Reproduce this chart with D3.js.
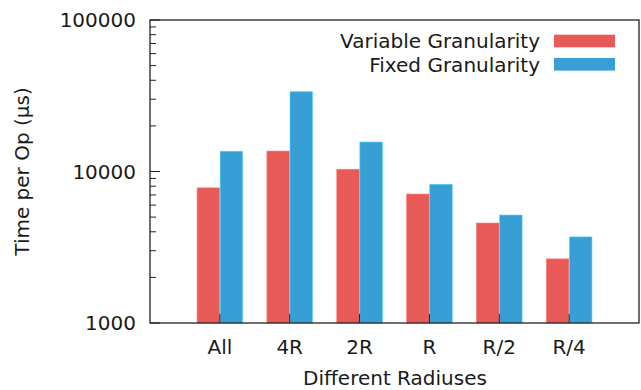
<!DOCTYPE html>
<html>
<head>
<meta charset="utf-8">
<script src="https://cdn.jsdelivr.net/npm/d3@7"></script>
<style>
  html, body { margin: 0; padding: 0; background: #fff; }
  text { font-family: "DejaVu Sans", sans-serif; fill: #1a1a1a; }
</style>
</head>
<body>
<svg id="chart" width="641" height="390"></svg>
<script>
const categories = ["All", "4R", "2R", "R", "R/2", "R/4"];
const variableGran = [7800, 13650, 10350, 7100, 4570, 2650];
const fixedGran = [13600, 33600, 15650, 8230, 5160, 3700];
const seriesNames = ["Variable Granularity", "Fixed Granularity"];
const seriesColors = ["#e85a58", "#389ed6"];
const yTickValues = [1000, 10000, 100000];

const svg = d3.select("#chart");
const margin = { left: 150, top: 20, right: 2, bottom: 67 };
const width = 641 - margin.left - margin.right;
const height = 390 - margin.top - margin.bottom;

const g = svg.append("g").attr("transform", `translate(${margin.left},${margin.top})`);

// gnuplot-like: categories at 0..5, range -1..6
const x = d3.scaleLinear().domain([-1, categories.length]).range([0, width]);
const y = d3.scaleLog().domain([1000, 100000]).range([height, 0]);

const barW = 22.5;
const series = [variableGran, fixedGran];

series.forEach((vals, si) => {
    g.append("g")
        .selectAll("rect")
        .data(vals)
        .join("rect")
        .attr("x", (d, i) => si === 0 ? x(i) - barW - 0.3 : x(i) + 0.3)
        .attr("y", d => y(d))
        .attr("width", barW)
        .attr("height", d => height - y(d))
        .attr("fill", seriesColors[si])
        .attr("stroke", d3.color(seriesColors[si]).brighter(0.8))
        .attr("stroke-width", 0.6);
});

// minor ticks on y
const minorTicks = [];
[1000, 10000].forEach(base => {
    for (let k = 2; k <= 9; k++) minorTicks.push(base * k);
});

g.append("g")
    .selectAll("line")
    .data(minorTicks)
    .join("line")
    .attr("x1", 0).attr("x2", 6)
    .attr("y1", d => y(d)).attr("y2", d => y(d))
    .attr("stroke", "#222").attr("stroke-width", 1);

g.append("g")
    .selectAll("line")
    .data(yTickValues)
    .join("line")
    .attr("x1", 0).attr("x2", 10)
    .attr("y1", d => y(d)).attr("y2", d => y(d))
    .attr("stroke", "#222").attr("stroke-width", 1);

g.append("g")
    .selectAll("text")
    .data(yTickValues)
    .join("text")
    .attr("x", -14)
    .attr("y", d => y(d))
    .attr("dy", "0.36em")
    .attr("text-anchor", "end")
    .style("font-size", "20px")
    .text(d => d);

// x ticks
g.append("g")
    .selectAll("line")
    .data(categories)
    .join("line")
    .attr("x1", (d, i) => x(i)).attr("x2", (d, i) => x(i))
    .attr("y1", height).attr("y2", height - 9)
    .attr("stroke", "#222").attr("stroke-width", 1);

g.append("g")
    .selectAll("text")
    .data(categories)
    .join("text")
    .attr("x", (d, i) => x(i))
    .attr("y", height + 31)
    .attr("text-anchor", "middle")
    .style("font-size", "20px")
    .text(d => d);

// frame
g.append("rect")
    .attr("x", 0).attr("y", 0)
    .attr("width", width).attr("height", height)
    .attr("fill", "none")
    .attr("stroke", "#222").attr("stroke-width", 1.3);

// axis titles
svg.append("text")
    .attr("transform", `translate(29,${margin.top + height / 2}) rotate(-90)`)
    .attr("text-anchor", "middle")
    .style("font-size", "20px")
    .text("Time per Op (μs)");

svg.append("text")
    .attr("x", 395)
    .attr("y", 385)
    .attr("text-anchor", "middle")
    .style("font-size", "20px")
    .text("Different Radiuses");

// legend
const legend = g.append("g");
seriesNames.forEach((name, i) => {
    const ly = 21 + i * 23.3;
    legend.append("text")
        .attr("x", 540 - margin.left)
        .attr("y", ly)
        .attr("dy", "0.36em")
        .attr("text-anchor", "end")
        .style("font-size", "20px")
        .text(name);
    legend.append("rect")
        .attr("x", 554 - margin.left)
        .attr("y", ly - 6.3)
        .attr("width", 61)
        .attr("height", 12.6)
        .attr("fill", seriesColors[i]);
});
</script>
</body>
</html>
